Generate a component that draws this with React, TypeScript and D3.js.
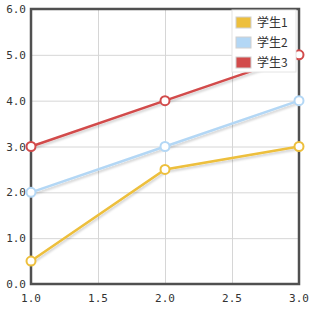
import React, { useEffect, useRef } from 'react'
import * as d3 from 'd3'

const xValues = [1, 2, 3]
const seriesNames = ['学生1', '学生2', '学生3']
const student1 = [0.5, 2.5, 3.0]
const student2 = [2.0, 3.0, 4.0]
const student3 = [3.0, 4.0, 5.0]
const colors = ['#edbf3c', '#b3d7f5', '#d24b4b']
const xTicks = [1.0, 1.5, 2.0, 2.5, 3.0]
const yTicks = [0, 1, 2, 3, 4, 5, 6]

const App: React.FC = () => {
  const svgRef = useRef<SVGSVGElement>(null)

  useEffect(() => {
    const width = 312
    const height = 309
    const margin = { top: 9, right: 13, bottom: 25, left: 31 }
    const svg = d3.select(svgRef.current).attr('width', width).attr('height', height)
    svg.selectAll('*').remove()

    const x = d3.scaleLinear([1, 3], [margin.left, width - margin.right])
    const y = d3.scaleLinear([0, 6], [height - margin.bottom, margin.top])

    const defs = svg.append('defs')
    const filter = defs.append('filter').attr('id', 'shadow').attr('x', '-10%').attr('y', '-10%').attr('width', '130%').attr('height', '140%')
    filter.append('feDropShadow').attr('dx', 1).attr('dy', 2).attr('stdDeviation', 1)
      .attr('flood-color', '#000').attr('flood-opacity', 0.18)

    svg.append('rect').attr('width', width).attr('height', height).attr('fill', '#fff')

    // grid
    const grid = svg.append('g')
    grid.selectAll('line.h').data(yTicks).enter().append('line')
      .attr('x1', x(1)).attr('x2', x(3))
      .attr('y1', (d) => y(d) + 0.5).attr('y2', (d) => y(d) + 0.5)
      .attr('stroke', '#d6d6d6').attr('stroke-width', 1)
    grid.selectAll('line.v').data(xTicks).enter().append('line')
      .attr('y1', y(6)).attr('y2', y(0))
      .attr('x1', (d) => x(d) + 0.5).attr('x2', (d) => x(d) + 0.5)
      .attr('stroke', '#d6d6d6').attr('stroke-width', 1)

    // frame
    svg.append('rect')
      .attr('x', x(1)).attr('y', y(6))
      .attr('width', x(3) - x(1)).attr('height', y(0) - y(6))
      .attr('fill', 'none').attr('stroke', '#505050').attr('stroke-width', 2.5)

    // tick labels
    const fmt = d3.format('.1f')
    svg.append('g').selectAll('text').data(yTicks).enter().append('text')
      .attr('x', x(1) - 5).attr('y', (d) => y(d) + 4)
      .attr('text-anchor', 'end')
      .attr('font-family', 'DejaVu Sans Mono').attr('font-size', 11).attr('fill', '#333')
      .text((d) => fmt(d))
    svg.append('g').selectAll('text').data(xTicks).enter().append('text')
      .attr('x', (d) => x(d)).attr('y', y(0) + 18)
      .attr('text-anchor', 'middle')
      .attr('font-family', 'DejaVu Sans Mono').attr('font-size', 11).attr('fill', '#333')
      .text((d) => fmt(d))

    const allSeries = [student1, student2, student3]
    const line = d3.line<number>().x((_, i) => x(xValues[i])).y((d) => y(d))

    allSeries.forEach((values, si) => {
      svg.append('path').datum(values)
        .attr('d', line)
        .attr('fill', 'none').attr('stroke', colors[si]).attr('stroke-width', 2.5)
        .attr('filter', 'url(#shadow)')
    })
    allSeries.forEach((values, si) => {
      svg.append('g').selectAll('circle').data(values).enter().append('circle')
        .attr('cx', (_, i) => x(xValues[i])).attr('cy', (d) => y(d))
        .attr('r', 4.5)
        .attr('fill', '#fff').attr('stroke', colors[si]).attr('stroke-width', 2)
    })

    // legend (drawn on top of the marks)
    const legend = svg.append('g')
    legend.append('rect')
      .attr('x', 232).attr('y', 10).attr('width', x(3) - 235).attr('height', 62)
      .attr('fill', '#fff').attr('stroke', '#e4e4e4').attr('stroke-width', 1)
    seriesNames.forEach((name, i) => {
      legend.append('rect')
        .attr('x', 236).attr('y', 17 + i * 20).attr('width', 15).attr('height', 11)
        .attr('fill', colors[i]).attr('stroke', '#d0d0d0').attr('stroke-width', 1)
      legend.append('text')
        .attr('x', 257).attr('y', 27 + i * 20)
        .attr('font-family', 'Noto Sans CJK SC').attr('font-size', 12).attr('fill', '#333')
        .text(name)
    })
  }, [])

  return <svg ref={svgRef} style={{ position: 'absolute', left: 0, top: 0 }} />
}

export default App
